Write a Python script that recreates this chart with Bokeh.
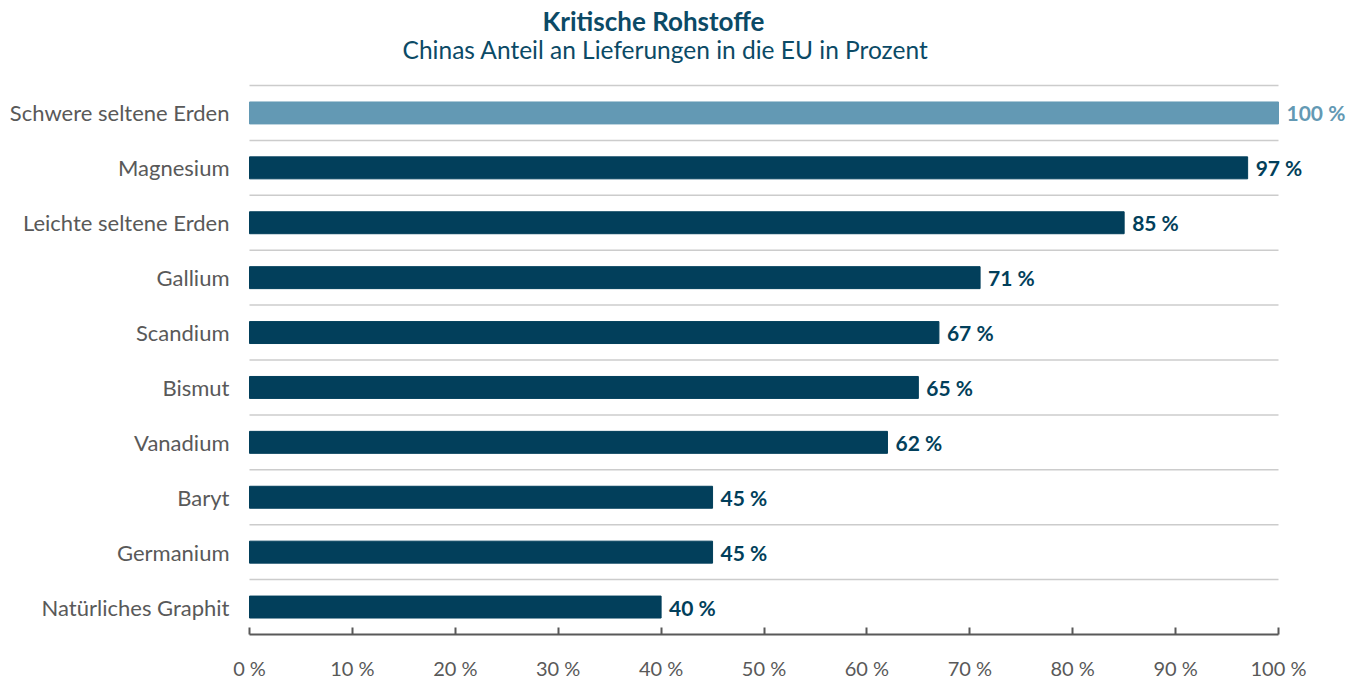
from bokeh.plotting import figure
from bokeh.models import Range1d, FixedTicker, LabelSet, Label, ColumnDataSource
from bokeh.core.properties import value
from bokeh.embed import file_html
from bokeh.resources import INLINE

# ---- data ----
categories = ["Schwere seltene Erden", "Magnesium", "Leichte seltene Erden", "Gallium",
              "Scandium", "Bismut", "Vanadium", "Baryt", "Germanium", "Natürliches Graphit"]
values = [100, 97, 85, 71, 67, 65, 62, 45, 45, 40]
value_labels = ["100 %", "97 %", "85 %", "71 %", "67 %", "65 %", "62 %", "45 %", "45 %", "40 %"]
highlighted = ["Schwere seltene Erden"]
x_ticks = [0, 10, 20, 30, 40, 50, 60, 70, 80, 90, 100]
x_tick_labels = ["0 %", "10 %", "20 %", "30 %", "40 %", "50 %", "60 %", "70 %", "80 %", "90 %", "100 %"]
title_text = "Kritische Rohstoffe"
subtitle_text = "Chinas Anteil an Lieferungen in die EU in Prozent"

# ---- styles ----
FONT = "Lato"
DARK = "#023F5B"
LIGHT = "#6399B4"
TITLE_COLOR = "#0B4A66"
GRAY_TEXT = "#595959"
GRID = "#cccccc"

W, H = 1360, 682
LEFT = 249            # px from left of the value-axis origin
PX_PER_PCT = 10.29    # horizontal scale
BAND = 54.9           # vertical px per category
TOP_GRID = 85         # px from top of the first separator
AXIS_Y = 634          # px from top of the x axis line

n = len(categories)
pos = [n - 1 - i for i in range(n)]
colors = [LIGHT if c in highlighted else DARK for c in categories]

src = ColumnDataSource(dict(cat=categories, val=values, pos=pos, color=colors, lab=value_labels))

x_start = x_ticks[0] - LEFT / PX_PER_PCT
x_end = x_ticks[-1] + (W - LEFT - PX_PER_PCT * x_ticks[-1]) / PX_PER_PCT
y_end = n - 0.5 + TOP_GRID / BAND
y_start = -0.5 - (H - AXIS_Y) / BAND

p = figure(width=W, height=H, x_range=Range1d(x_start, x_end), y_range=Range1d(y_start, y_end),
           output_backend="svg", toolbar_location=None,
           min_border_left=0, min_border_right=0, min_border_top=0, min_border_bottom=0)
p.outline_line_color = None
p.xgrid.visible = False
p.ygrid.visible = False

# separators between categories
sep_y = [k + 0.5 for k in range(n)]
p.segment(x0=[x_ticks[0]] * n, x1=[x_ticks[-1]] * n, y0=sep_y, y1=sep_y,
          line_color=GRID, line_width=1.5)

p.hbar(y="pos", left=0, right="val", height=0.4, color="color", source=src)

# y axis (categories), anchored at x = 0
p.yaxis.fixed_location = x_ticks[0]
p.yaxis.ticker = FixedTicker(ticks=pos)
p.yaxis.major_label_overrides = {pp: c for pp, c in zip(pos, categories)}
p.yaxis.axis_line_color = None
p.yaxis.major_tick_line_color = None
p.yaxis.minor_tick_line_color = None
p.yaxis.major_tick_out = 0
p.yaxis.major_tick_in = 0
p.yaxis.major_label_standoff = 20
p.yaxis.major_label_text_font = FONT
p.yaxis.major_label_text_font_size = "22px"
p.yaxis.major_label_text_color = GRAY_TEXT

# x axis (percent), anchored below the last category
p.xaxis.fixed_location = -0.5
p.xaxis.bounds = (x_ticks[0], x_ticks[-1])
p.xaxis.ticker = FixedTicker(ticks=x_ticks)
p.xaxis.major_label_overrides = {t: l for t, l in zip(x_ticks, x_tick_labels)}
p.xaxis.axis_line_color = GRAY_TEXT
p.xaxis.axis_line_width = 2
p.xaxis.major_tick_line_color = GRAY_TEXT
p.xaxis.major_tick_line_width = 2
p.xaxis.major_tick_in = 7
p.xaxis.major_tick_out = 0
p.xaxis.minor_tick_line_color = None
p.xaxis.major_label_standoff = 21
p.xaxis.major_label_text_font = FONT
p.xaxis.major_label_text_font_size = "20px"
p.xaxis.major_label_text_color = GRAY_TEXT

# value labels
labels = LabelSet(x="val", y="pos", text="lab", source=src, x_offset=8,
                  text_baseline="middle", text_align="left", text_font=value(FONT),
                  text_font_size="21px", text_font_style="bold", text_color="color")
p.add_layout(labels)

# titles (centre positions in data space of the extended frame)
p.add_layout(Label(x=39.26, y=y_end - 20 / BAND, text=title_text, text_align="center",
                   text_baseline="middle", text_font=FONT, text_font_size="26px",
                   text_font_style="bold", text_color=TITLE_COLOR))
p.add_layout(Label(x=40.43, y=y_end - 49 / BAND, text=subtitle_text, text_align="center",
                   text_baseline="middle", text_font=FONT, text_font_size="24.5px",
                   text_color=TITLE_COLOR))

open("out.html", "w").write(file_html(p, INLINE))
